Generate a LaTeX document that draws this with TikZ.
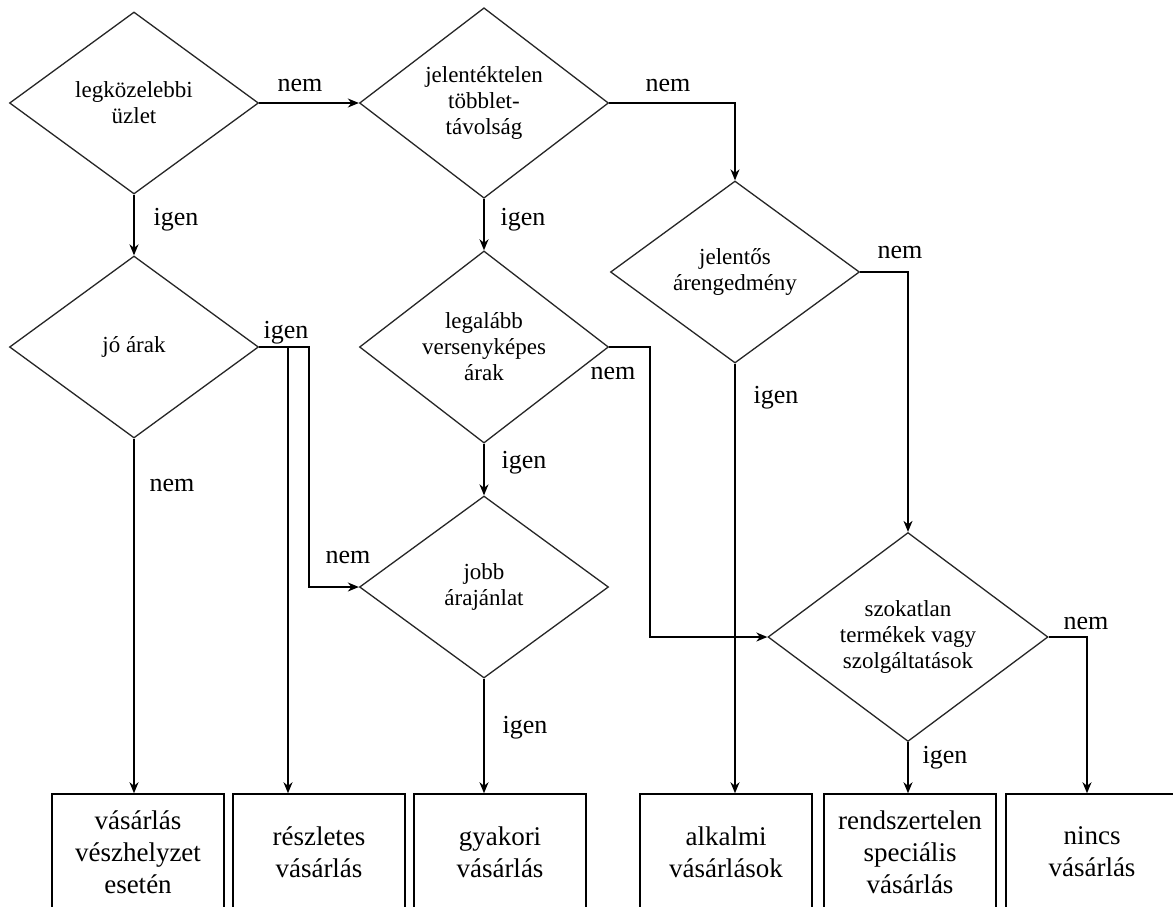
\documentclass[tikz,border=0pt]{standalone}
\usepackage{fontspec}
\setmainfont{Liberation Serif}
\usetikzlibrary{shapes.geometric,arrows.meta}
\begin{document}
\begin{tikzpicture}[x=1pt,y=-1pt,
  dia/.style={draw=black!85, shape=diamond, minimum width=249pt, minimum height=182pt, inner sep=0pt, align=center, font=\fontsize{23}{26}\selectfont, line width=1.3pt},
  bigdia/.style={dia, minimum width=280pt, minimum height=194pt},
  outbox/.style={draw, rectangle, minimum width=172pt, minimum height=116pt, inner sep=0pt, align=center, font=\fontsize{27}{32}\selectfont, line width=1.5pt},
  lbl/.style={font=\fontsize{26}{28}\selectfont, inner sep=0pt},
  arr/.style={-{Stealth[length=11pt,width=9pt,inset=3.5pt]}, line width=1.5pt}]
\useasboundingbox (0,0) rectangle (1173,906);
\clip (0,0) rectangle (1173,906);
\fill[white] (0,0) rectangle (1173,906);

% decisions
\node[dia] (d1) at (134,103) {legközelebbi\\üzlet};
\node[dia] (d2) at (484,103) {jelentéktelen\\többlet-\\távolság};
\node[dia] (d3) at (735,272) {jelentős\\árengedmény};
\node[dia] (d4) at (134,347) {jó árak};
\node[dia] (d5) at (484,347) {legalább\\versenyképes\\árak};
\node[dia] (d7) at (484,587) {jobb\\árajánlat};
\node[bigdia] (d6) at (908,637) {szokatlan\\termékek vagy\\szolgáltatások};

% outcomes
\node[outbox] (b1) at (138,852) {vásárlás\\vészhelyzet\\esetén};
\node[outbox] (b2) at (319,852) {részletes\\vásárlás};
\node[outbox] (b3) at (500,852) {gyakori\\vásárlás};
\node[outbox] (b4) at (726,852) {alkalmi\\vásárlások};
\node[outbox] (b5) at (910,852) {rendszertelen\\speciális\\vásárlás};
\node[outbox] (b6) at (1092,852) {nincs\\vásárlás};

% bend points
\coordinate (k1) at (288,347);
\coordinate (k2) at (309,347);
\coordinate (k3) at (650,347);
\coordinate (k4) at (1087,637);

% connectors
\draw[arr] (d1.east) -- (d2.west);
\draw[arr] (d1.south) -- (d4.north);
\draw[arr] (d2.east) -| (d3.north);
\draw[arr] (d2.south) -- (d5.north);
\draw[arr] (d3.east) -| (d6.north);
\draw[arr] (d3.south) -- (d3.south |- b4.north);
\draw[arr] (d4.east) -- (k1) -- (k1 |- b2.north);
\draw[arr] (k1) -- (k2) |- (d7.west);
\draw[arr] (d4.south) -- (d4.south |- b1.north);
\draw[arr] (d5.east) -- (k3) |- (d6.west);
\draw[arr] (d5.south) -- (d7.north);
\draw[arr] (d7.south) -- (d7.south |- b3.north);
\draw[arr] (d6.east) -- (k4) -- (k4 |- b6.north);
\draw[arr] (d6.south) -- (d6.south |- b5.north);

% labels
\node[lbl] (l1) at (300,85) {nem};
\node[lbl] (l2) at (176,220) {igen};
\node[lbl] (l3) at (668,85) {nem};
\node[lbl] (l4) at (523,220) {igen};
\node[lbl] (l5) at (900,252) {nem};
\node[lbl] (l6) at (776,398) {igen};
\node[lbl] (l7) at (286,333) {igen};
\node[lbl] (l8) at (172,485) {nem};
\node[lbl] (l9) at (613,373) {nem};
\node[lbl] (l10) at (524,463) {igen};
\node[lbl] (l11) at (348,557) {nem};
\node[lbl] (l12) at (525,728) {igen};
\node[lbl] (l13) at (1086,623) {nem};
\node[lbl] (l14) at (945,758) {igen};
\end{tikzpicture}
\end{document}
